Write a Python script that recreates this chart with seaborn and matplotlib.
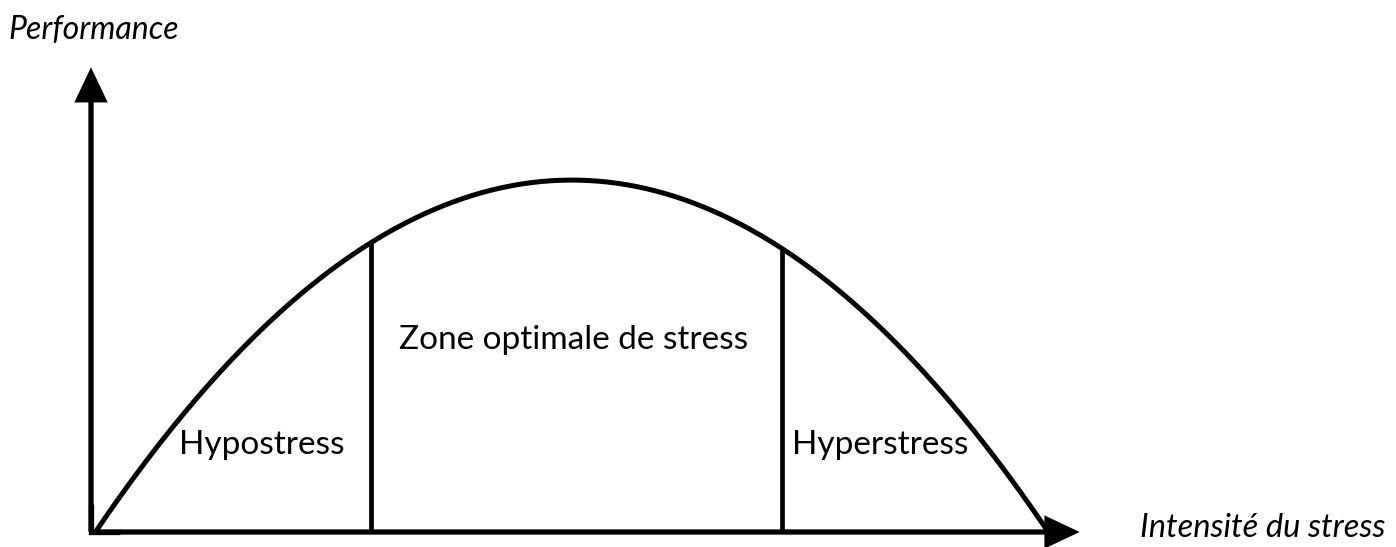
########################################################
# Required Python Packages
########################################################

import matplotlib
matplotlib.use("Agg")
import matplotlib.pyplot as plt
import seaborn as sns

########################################################
# Data
########################################################

stress = [0.0, 0.5, 1.0, 1.5, 2.0, 2.5, 3.0, 3.5, 4.0, 4.5, 5.0,
          5.5, 6.0, 6.5, 7.0, 7.5, 8.0, 8.5, 9.0, 9.5, 10.0]
performance = [0.0, 2.0, 3.7, 5.2, 6.4, 7.5, 8.4, 9.1, 9.6, 9.9, 10.0,
               9.9, 9.6, 9.1, 8.4, 7.5, 6.3, 5.0, 3.5, 1.8, 0.0]

zone_bounds = [2.87, 7.19]
zone_tops = [8.2, 8.0]
zone_labels = ["Hypostress", "Zone optimale de stress", "Hyperstress"]

x_label = "Intensité du stress"
y_label = "Performance"

########################################################
# Layout
########################################################

LABEL_POS = [(1.73, 2.47), (5.0, 5.45), (8.22, 2.47)]
X_LIM = (-1.018, 13.63)
Y_LIM = (-0.426, 15.11)
FONT = ["Lato", "DejaVu Sans"]

########################################################
# Draw
########################################################

def main():
    sns.set_theme(style="white")
    plt.rcParams["font.family"] = FONT
    plt.rcParams["text.color"] = "black"

    fig = plt.figure(figsize=(13.96, 5.47), dpi=100)
    ax = fig.add_axes([0, 0, 1, 1])

    # curve
    sns.regplot(x=stress, y=performance, order=2, ci=None, scatter=False,
                truncate=True, color="black", line_kws={"lw": 3.6}, ax=ax)

    # zone separators
    ax.vlines(zone_bounds, 0, zone_tops, color="black", lw=3.4)

    # axes with arrows
    x0, y0 = -0.063, 0.0
    x_tip, y_tip = 10.31, 13.2
    arrow = dict(arrowstyle="-|>,head_length=0.95,head_width=0.45",
                 lw=3.8, color="black", mutation_scale=20,
                 shrinkA=0, shrinkB=0, joinstyle="miter", capstyle="butt")
    ax.annotate("", xy=(x0, y_tip), xytext=(x0, y0), arrowprops=arrow)
    ax.annotate("", xy=(x_tip, y0), xytext=(x0, y0), arrowprops=arrow)
    # square corner
    ax.plot([x0, x0, x0 + 0.3], [0.8, y0, y0], color="black",
            lw=3.8, solid_joinstyle="miter", solid_capstyle="butt")

    # zone labels
    for (lx, ly), txt in zip(LABEL_POS, zone_labels):
        ax.text(lx, ly, txt, ha="center", va="center", fontsize=24,
                color="black")

    # axis titles
    fig.text(8 / 1396, 1 - 30 / 547, y_label, ha="left", va="center",
             fontsize=23, style="italic", color="black")
    fig.text(1140 / 1396, 1 - 528 / 547, x_label, ha="left", va="center",
             fontsize=23.5, style="italic", color="black")

    ax.set_xlim(*X_LIM)
    ax.set_ylim(*Y_LIM)
    ax.axis("off")

    fig.savefig("out.png", dpi=100, facecolor="white")


if __name__ == "__main__":
    main()
